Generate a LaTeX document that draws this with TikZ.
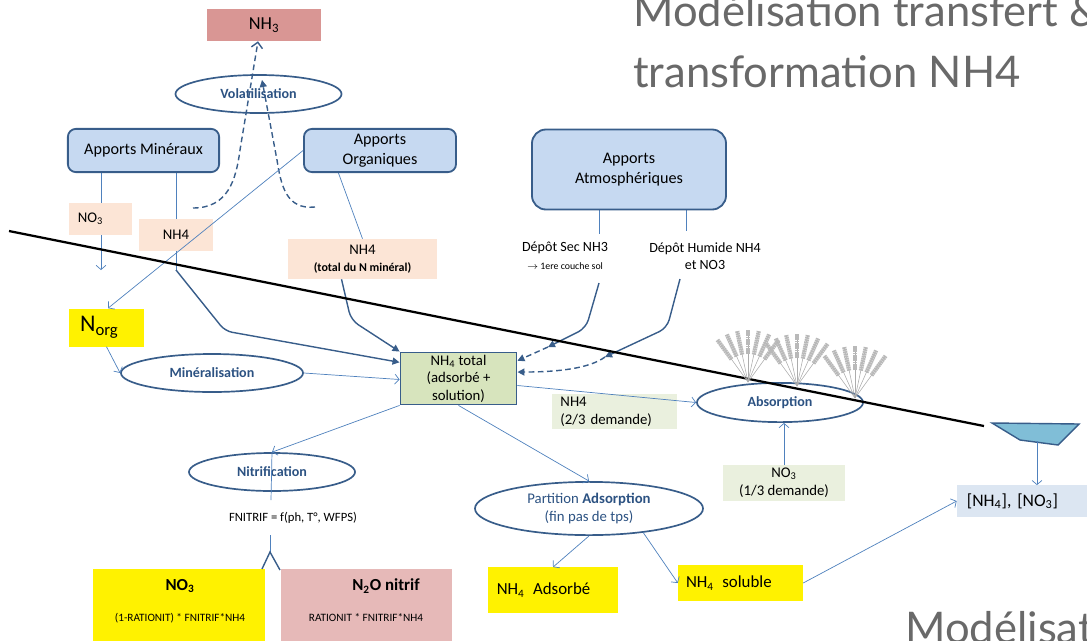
\documentclass[tikz,border=0pt]{standalone}
\usepackage{fontspec}
\setmainfont{Carlito}
\newfontfamily\titlefont{Lato}
\usepackage{tikz}
\usetikzlibrary{shapes.geometric}
\usetikzlibrary{positioning}
\usetikzlibrary{arrows.meta}
\usetikzlibrary{calc}
\usetikzlibrary{backgrounds}

\definecolor{boxblue}{RGB}{198,217,241}
\definecolor{edgeblue}{RGB}{56,93,138}
\definecolor{linkblue}{RGB}{79,129,189}
\definecolor{txtblue}{RGB}{44,82,130}
\definecolor{peach}{RGB}{252,229,214}
\definecolor{sage}{RGB}{234,240,222}
\definecolor{ammgreen}{RGB}{215,228,189}
\definecolor{nhthree}{RGB}{217,150,148}
\definecolor{nitrose}{RGB}{230,185,184}
\definecolor{resblue}{RGB}{220,230,242}
\definecolor{water}{RGB}{128,190,215}
\definecolor{titlegray}{RGB}{105,105,105}

\begin{document}
\begin{tikzpicture}[x=0.025cm,y=-0.025cm,
    apport/.style={draw=edgeblue, fill=boxblue, line width=1.3pt, rounded corners=0.2cm,
      align=center, inner sep=0pt, font=\fontsize{11.5}{14.5}\selectfont},
    proc/.style={ellipse, draw=edgeblue, line width=1.2pt, inner sep=0pt,
      text=txtblue, font=\bfseries\fontsize{10}{12}\selectfont},
    tag/.style={inner sep=0pt, font=\fontsize{10.5}{13}\selectfont},
    pool/.style={inner sep=0pt, font=\fontsize{12}{14}\selectfont},
    heading/.style={anchor=base west, inner sep=0pt, text=titlegray,
      font=\titlefont\fontsize{31}{38}\selectfont},
    link/.style={draw=linkblue, line width=0.5pt},
    linkarrow/.style={link, -{Straight Barb[length=3pt,width=7pt]}},
    feed/.style={draw=edgeblue, line width=1pt, -{Triangle[length=5pt,width=5pt]}},
    dashfeed/.style={feed, dash pattern=on 4pt off 2.5pt},
    soil/.style={draw=black, line width=1.6pt},
    stem/.style={draw=gray!65, line width=0.4pt},
    ear/.style={draw=gray!55, line width=3pt, dash pattern=on 1.2pt off 0.4pt}
  ]

  \useasboundingbox (0,0) rectangle (1087,640);

  % title, cut by the page edges
  \node[heading] (titletop) at (633,26) {Modélisation transfert \&};
  \node[heading] (titlebot) at (633,87) {transformation NH4};
  \node[heading] (footer) at (905,643) {Modélisation};

  % bends and free ends of the connectors
  \coordinate (no3end) at (101,270);
  \coordinate (nhbend) at (176,270);
  \coordinate (nhknee) at (225,331);
  \coordinate (orgknee) at (351,320);
  \coordinate (sectop) at (599,234);
  \coordinate (secbot) at (599,283);
  \coordinate (secknee) at (586,328);
  \coordinate (sechit) at (548,347);
  \coordinate (humtop) at (686,231);
  \coordinate (humbot) at (680,279);
  \coordinate (humknee) at (667,328);
  \coordinate (humhit) at (605,357);
  \coordinate (volL) at (193,208);
  \coordinate (volR) at (315,207);
  \coordinate (volhit) at (262,80);
  \coordinate (nitbot) at (271,500);
  \coordinate (forktop) at (270,535);
  \coordinate (fork) at (270,552);
  \coordinate (forkl) at (262,569);
  \coordinate (forkr) at (280,570);
  \coordinate (pond) at (1037,441);

  % gaseous loss
  \node[pool, fill=nhthree, minimum width=2.85cm, minimum height=0.8cm,
    font=\fontsize{13}{15}\selectfont] (nhthree) at (264,25) {NH\textsubscript{3}};
  \node[proc, minimum width=4.15cm, minimum height=0.95cm] (volat) at (258.5,94) {Volatilisation};

  % inputs
  \node[apport, minimum width=3.78cm, minimum height=1.08cm] (apmin) at (143.5,150.5) {Apports Minéraux};
  \node[apport, minimum width=3.8cm, minimum height=1.08cm] (aporg) at (380,150.5) {Apports\\Organiques};
  \node[apport, rounded corners=0.35cm, minimum width=4.85cm, minimum height=2cm] (apatm) at (629,169.5) {Apports\\Atmosphériques};

  \node[tag, fill=peach, minimum height=0.78cm, text width=1.13cm, align=left,
    inner xsep=0.22cm] (lblno) at (100.5,219) {NO\textsubscript{3}};
  \node[tag, fill=peach, minimum width=1.85cm, minimum height=0.78cm] (lblnh) at (176,235) {NH4};
  \node[tag, fill=peach, minimum width=3.73cm, minimum height=1cm, align=center] (lblnhorg) at (362.5,259)
    {NH4\\[-1pt]{\bfseries\fontsize{8.5}{10}\selectfont(total du N minéral)}};

  \node[tag, font=\fontsize{10}{12}\selectfont] (depsec) at (565,248) {Dépôt Sec NH3};
  \node[tag, font=\fontsize{7}{8}\selectfont] (depsecsub) at (565,266) {$\rightarrow$ 1ere couche sol};
  \node[tag, align=center, font=\fontsize{10}{12.5}\selectfont] (dephum) at (705,256) {Dépôt Humide NH4\\et NO3};

  % soil pools
  \node[pool, fill=yellow, minimum height=0.95cm, text width=1.32cm, align=left, inner xsep=0.28cm,
    font=\fontsize{17}{19}\selectfont] (norg) at (106.5,327.5) {N\textsubscript{org}};
  \node[proc, minimum width=4.55cm, minimum height=0.95cm] (mineral) at (212,373) {Minéralisation};
  \node[draw=edgeblue, fill=ammgreen, line width=1.3pt, minimum width=2.9cm, minimum height=1.3cm,
    align=center, inner sep=0pt, font=\fontsize{10.5}{12.5}\selectfont] (nhtot) at (458.5,378.5)
    {NH\textsubscript{4} total\\(adsorbé +\\solution)};

  % plant uptake
  \node[tag, fill=sage, minimum height=0.88cm, text width=2.7cm, align=left,
    inner xsep=0.22cm] (lbldem) at (614.5,411.5) {NH4\\(2/3 demande)};
  \node[proc, minimum width=4.15cm, minimum height=0.98cm] (absorb) at (780,402.5) {Absorption};
  \node[tag, fill=sage, minimum width=3.05cm, minimum height=0.88cm, align=center] (lblnodem) at (784,483)
    {NO\textsubscript{3}\\(1/3 demande)};

  % leaching
  \node[pool, fill=resblue, minimum height=0.78cm, text width=2.75cm, align=left, inner xsep=0.25cm,
    font=\fontsize{12.5}{14}\selectfont] (result) at (1022,501) {[NH\textsubscript{4}], [NO\textsubscript{3}]};

  % nitrification
  \node[proc, minimum width=4.15cm, minimum height=0.95cm] (nitrif) at (272,472) {Nitrification};
  \node[tag, font=\fontsize{9}{11}\selectfont] (fnitrif) at (293,518) {FNITRIF = f(ph, T°, WFPS)};
  \node[fill=yellow, minimum width=4.3cm, minimum height=1.9cm] (boxno) at (179,607) {};
  \node[pool, font=\bfseries\fontsize{12}{14}\selectfont] (boxnotitle) at (180,586) {NO\textsubscript{3}};
  \node[tag, font=\fontsize{8}{10}\selectfont] (boxnoform) at (180,618) {(1-RATIONIT) * FNITRIF*NH4};
  \node[fill=nitrose, minimum width=4.28cm, minimum height=1.9cm] (boxnto) at (366.5,607) {};
  \node[pool, font=\bfseries\fontsize{12}{14}\selectfont] (boxntotitle) at (386,586) {N\textsubscript{2}O nitrif};
  \node[tag, font=\fontsize{8}{10}\selectfont] (boxntoform) at (366,618) {RATIONIT * FNITRIF*NH4};

  % adsorption
  \node[proc, align=center, font=\fontsize{10.5}{12.5}\selectfont, minimum width=5.7cm,
    minimum height=1.33cm] (partit) at (589,508.5) {Partition \textbf{Adsorption}\\(fin pas de tps)};
  \node[pool, fill=yellow, minimum height=1.13cm, text width=2.81cm, align=left,
    inner xsep=0.22cm] (nhads) at (553,590) {NH\textsubscript{4}\hspace{0.5em}Adsorbé};
  \node[pool, fill=yellow, minimum height=0.9cm, text width=2.72cm, align=left,
    inner xsep=0.2cm] (nhsol) at (740.5,583) {NH\textsubscript{4}\hspace{0.5em}soluble};

  % links running behind the labels
  \begin{scope}[on background layer]
    \draw[linkarrow] (apmin.south -| no3end) -- (no3end);
    \draw[link] (apmin.south -| nhbend) -- (nhbend);
    \draw[link] ($(aporg.south west)!0.23!(aporg.south east)$) -- (lblnhorg.north);
    \draw[link] (apatm.south -| sectop) -- (sectop);
    \draw[link] (apatm.south -| humtop) -- (humtop);
  \end{scope}

  % ammonium reaching the soil
  \draw[feed, rounded corners=5pt] (nhbend) -- (nhknee) -- ($(nhtot.north west)!0.2!(nhtot.south west)$);
  \draw[feed, rounded corners=6pt] ($(lblnhorg.south west)!0.36!(lblnhorg.south east)$) -- (orgknee) -- (nhtot.north west);
  \draw[feed, rounded corners=6pt] (secbot) -- (secknee) -- (sechit);
  \draw[dashfeed] (sechit) -- ($(nhtot.north east)!0.17!(nhtot.south east)$);
  \draw[feed, rounded corners=6pt] (humbot) -- (humknee) -- (humhit);
  \draw[dashfeed] (humhit) .. controls (590,368) and (560,372) .. ($(nhtot.north east)!0.38!(nhtot.south east)$);

  % volatilisation
  \draw[dashfeed, -{Straight Barb[length=4pt,width=8pt]}] (volL) .. controls (228,208) and (236,180) .. (240,150) -- ($(nhthree.south)+(-6,0)$);
  \draw[dashfeed] (volR) .. controls (286,210) and (281,185) .. (277,160) -- (volhit);

  \draw[linkarrow] (aporg.west) -- ($(norg.north west)!0.52!(norg.north east)$);
  \draw[linkarrow] (norg.south) -- (mineral.west);
  \draw[linkarrow] (mineral.east) -- ($(nhtot.west)+(0,1)$);
  \draw[linkarrow] ($(nhtot.east)+(0,7)$) -- (absorb.west);
  \draw[linkarrow] (lblnodem.north) -- (lblnodem.north |- absorb.south);

  \draw[linkarrow] (nhtot.south west) -- (nitrif.north);
  \draw[link] (nitrif.north) -- (nitbot);
  \draw[link] (forktop) -- (fork);
  \draw[feed, -] (forkl) -- (fork) -- (forkr);

  \draw[linkarrow] (nhtot.south) -- (partit.north);
  \draw[linkarrow] (partit.south) -- (nhads.north);
  \draw[linkarrow] (partit.-24) -- (nhsol.west);
  \draw[linkarrow] (nhsol.east) -- (result.west);

  % drainage
  \draw[draw=edgeblue, fill=water, line width=1pt] (992,423) -- (1020,440) -- (1058,445) -- (1079,424) -- cycle;
  \draw[linkarrow] (pond) -- (pond |- result.north);

  % soil surface
  \draw[soil] (9,231) -- (984,426);

  % wheat above the absorption
  \foreach \bx/\by in {748/382, 797/386, 855/398}{
    \foreach \a in {-36,-24,-12,0,12,24,36}{
      \draw[stem] (\bx,\by) -- ++({52*sin(\a)},{-52*cos(\a)});
      \draw[ear] ($(\bx,\by)+({28*sin(\a)},{-28*cos(\a)})$) -- ++({24*sin(\a)},{-24*cos(\a)});
    }
  }

\end{tikzpicture}
\end{document}
